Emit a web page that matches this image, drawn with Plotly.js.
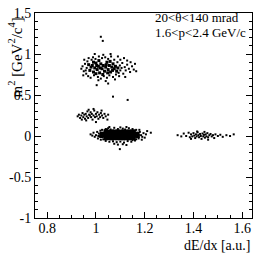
<!DOCTYPE html>
<html>
<head>
<meta charset="utf-8">
<script src="https://cdn.plot.ly/plotly-3.0.1.min.js"></script>
<style>html,body{margin:0;padding:0;background:#fff;}#chart{width:266px;height:257px;}</style>
</head>
<body>
<div id="chart"></div>
<script>
// Pion band, dense core (m2 ~ 0, dE/dx ~ 1.1)
const pionCoreX = [1.022,1.034,1.046,1.058,1.070,1.082,1.094,1.106,1.118,1.130,1.142,1.154,1.166,1.172,
                   1.024,1.036,1.048,1.060,1.072,1.084,1.096,1.108,1.120,1.132,1.144,1.156,1.166,1.171,
                   1.040,1.052,1.064,1.076,1.088,1.100,1.112,1.124,1.136,1.148,1.155,
                   1.041,1.053,1.065,1.077,1.089,1.101,1.113,1.125,1.137,1.149,1.154];
const pionCoreY = [0.000,0.002,-0.002,0.001,0.000,0.003,-0.001,0.000,0.002,-0.002,0.001,0.000,0.003,-0.001,
                   0.028,0.030,0.027,0.029,0.028,0.026,0.030,0.028,0.029,0.027,0.028,0.030,0.026,0.028,
                   -0.028,-0.026,-0.029,-0.027,-0.028,-0.026,-0.029,-0.027,-0.028,-0.026,-0.027,
                   0.056,0.054,0.057,0.055,0.056,0.054,0.057,0.055,0.056,0.054,0.055];
// Pion band, surrounding dots
const pionHaloX = [0.978,0.990,0.995,1.000,1.005,1.008,1.012,1.015,1.018,1.020,1.025,1.010,0.985,
                   1.040,1.050,1.060,1.075,1.090,1.100,1.110,1.120,1.135,1.150,1.165,1.055,1.125,
                   1.040,1.055,1.070,1.085,1.100,1.115,1.130,1.145,1.160,1.075,1.110,1.090,1.098,1.125,
                   1.175,1.180,1.185,1.190,1.195,1.200,1.205,1.210,1.225,1.178,1.188,
                   1.030,1.035,1.160,1.165,1.045,1.150];
const pionHaloY = [0.020,0.040,-0.010,0.010,0.050,-0.030,0.030,-0.005,0.065,-0.045,0.075,0.000,0.005,
                   0.085,0.095,0.080,0.100,0.085,0.105,0.090,0.080,0.095,0.085,0.075,0.110,0.110,
                   -0.060,-0.070,-0.065,-0.075,-0.068,-0.080,-0.062,-0.070,-0.055,-0.095,-0.100,-0.105,-0.160,-0.110,
                   -0.030,0.050,0.010,-0.010,0.035,-0.020,0.020,0.060,0.040,0.075,-0.045,
                   -0.040,0.070,0.065,-0.040,0.080,-0.050];
// Kaon band (m2 ~ 0.25)
const kaonX = [0.925,0.930,0.935,0.940,0.945,0.948,0.952,0.955,0.958,0.962,0.965,0.968,0.972,0.975,0.978,
               0.980,0.983,0.986,0.990,0.993,0.996,1.000,1.003,1.006,1.010,1.013,1.017,1.020,1.025,1.030,
               1.035,1.040,1.047,1.050,0.960,0.990,1.000,0.970,1.023,0.942];
const kaonY = [0.24,0.26,0.22,0.25,0.28,0.23,0.26,0.21,0.27,0.24,0.30,0.22,0.26,0.25,0.29,
               0.23,0.27,0.20,0.25,0.31,0.23,0.27,0.24,0.29,0.21,0.26,0.23,0.28,0.25,0.22,
               0.27,0.24,0.20,0.26,0.19,0.33,0.17,0.32,0.31,0.20];
// Proton band (m2 ~ 0.85), dense part
const protonCoreX = [0.975,0.985,0.990,0.995,1.000,1.005,1.010,1.015,1.020,1.025,1.030,1.035,1.040,1.045,1.050,
                     1.055,1.060,1.065,1.070,1.075,1.080,0.980,0.990,1.000,1.012,1.028,1.042,1.058,1.068,1.085,
                     0.970,1.018,1.048,1.090,1.003];
const protonCoreY = [0.80,0.86,0.78,0.83,0.89,0.81,0.85,0.77,0.88,0.82,0.86,0.79,0.84,0.90,0.81,
                     0.86,0.78,0.84,0.88,0.82,0.85,0.84,0.90,0.76,0.92,0.75,0.87,0.91,0.80,0.79,
                     0.87,0.83,0.77,0.83,0.86];
// Proton band, surrounding dots and outliers
const protonHaloX = [0.940,0.945,0.950,0.955,0.960,0.962,0.965,0.958,0.968,0.970,0.978,0.982,0.988,0.992,0.998,
                     1.008,1.012,1.020,1.025,1.032,1.038,1.045,1.050,1.055,1.062,1.070,1.075,1.082,1.088,1.093,
                     1.098,1.100,1.105,1.108,1.112,1.118,1.122,1.128,1.135,1.140,1.148,1.155,1.160,1.030,1.060,
                     1.090,0.995,1.115,1.128,1.010,1.040,1.078,1.120,1.050,1.003,1.020,1.028,1.070,1.130,0.952,
                     0.948,1.165,1.142,1.100,1.095];
const protonHaloY = [0.82,0.85,0.79,0.88,0.76,0.83,0.91,0.80,0.73,0.95,0.71,0.93,0.96,0.74,0.94,
                     0.72,0.97,0.70,0.95,0.73,0.96,0.71,0.94,0.74,0.97,0.72,0.93,0.75,0.90,0.77,
                     0.86,0.80,0.83,0.89,0.76,0.84,0.80,0.87,0.82,0.78,0.85,0.81,0.88,0.99,1.00,
                     0.97,1.00,0.95,0.92,0.68,0.67,0.69,0.72,0.64,0.62,1.21,1.16,0.48,0.44,0.93,
                     0.74,0.79,0.90,0.93,0.73];
// Electron band (m2 ~ 0, dE/dx ~ 1.45)
const electronX = [1.335,1.350,1.360,1.370,1.380,1.385,1.390,1.395,1.400,1.403,1.407,1.410,1.413,1.417,1.420,
                   1.423,1.427,1.430,1.433,1.437,1.440,1.443,1.447,1.450,1.453,1.457,1.460,1.465,1.470,1.475,
                   1.480,1.485,1.490,1.500,1.510,1.520,1.535,1.550,1.565,1.415,1.445,1.390,1.460];
const electronY = [0.010,-0.005,0.030,0.000,0.040,-0.015,0.020,-0.005,0.035,0.005,-0.025,0.020,-0.005,0.045,0.010,
                   -0.015,0.025,0.000,-0.035,0.030,-0.005,0.015,-0.020,0.020,-0.005,0.035,-0.015,0.010,0.025,-0.005,
                   0.010,-0.025,0.020,0.000,0.015,-0.010,0.010,0.000,0.020,0.055,0.050,-0.035,-0.045];

const xTickVals = [0.8,1,1.2,1.4,1.6];
const xTickText = ["0.8","1","1.2","1.4","1.6"];
const yTickVals = [-1,-0.5,0,0.5,1,1.5];
const yTickText = ["-1","-0.5","0","0.5","1","1.5"];

function dots(x, y, size) {
  return {x: x, y: y, type: 'scatter', mode: 'markers', hoverinfo: 'skip',
          marker: {symbol: 'square', size: size, color: '#000', line: {width: 0}}};
}

const traces = [
  dots(pionCoreX, pionCoreY, 4),
  dots(pionHaloX, pionHaloY, 2),
  dots(kaonX, kaonY, 2),
  dots(protonCoreX, protonCoreY, 3),
  dots(protonHaloX, protonHaloY, 2),
  dots(electronX, electronY, 2)
];

const serif = '"Liberation Serif", "DejaVu Serif", serif';
const font = {family: serif, size: 14, color: '#000'};
const legendFont = {family: serif, size: 13, color: '#000'};

const layout = {
  width: 266, height: 257,
  margin: {l: 35, r: 14, t: 13, b: 39, pad: 0},
  paper_bgcolor: '#fff', plot_bgcolor: '#fff',
  showlegend: false,
  font: font,
  xaxis: {
    range: [0.75, 1.64], showgrid: false, zeroline: false,
    showline: true, linecolor: '#000', linewidth: 1, mirror: true,
    ticks: 'inside', ticklen: 6, tickwidth: 1, tickcolor: '#000',
    tickmode: 'array', tickvals: xTickVals, ticktext: xTickText,
    ticklabelstandoff: -3,
    minor: {dtick: 0.05, tick0: 0.75, ticks: 'inside', ticklen: 3, tickcolor: '#000', showgrid: false},
    tickfont: font
  },
  yaxis: {
    range: [-1, 1.5], showgrid: false, zeroline: false,
    showline: true, linecolor: '#000', linewidth: 1, mirror: 'ticks',
    ticks: 'inside', ticklen: 6, tickwidth: 1, tickcolor: '#000',
    tickmode: 'array', tickvals: yTickVals, ticktext: yTickText,
    minor: {dtick: 0.1, tick0: 0, ticks: 'inside', ticklen: 3, tickcolor: '#000', showgrid: false},
    tickfont: font
  },
  annotations: [
    {xref: 'paper', yref: 'paper', x: 0.544, y: 0.976, xanchor: 'left', yanchor: 'middle',
     text: '20<θ<140 mrad', showarrow: false, font: legendFont},
    {xref: 'paper', yref: 'paper', x: 0.544, y: 0.907, xanchor: 'left', yanchor: 'middle',
     text: '1.6<p<2.4 GeV/c', showarrow: false, font: legendFont},
    {xref: 'paper', yref: 'paper', x: 1.0, y: -0.132, xanchor: 'right', yanchor: 'middle',
     text: 'dE/dx [a.u.]', showarrow: false, font: font},
    {xref: 'paper', yref: 'paper', x: -0.09, y: 0.785, xanchor: 'center', yanchor: 'middle',
     text: 'm<sup>2</sup> [GeV<sup>2</sup>/c<sup>4</sup>]', textangle: -90, showarrow: false,
     font: {family: serif, size: 15, color: '#000'}}
  ]
};

Plotly.newPlot('chart', traces, layout, {staticPlot: true, displayModeBar: false});
</script>
</body>
</html>
